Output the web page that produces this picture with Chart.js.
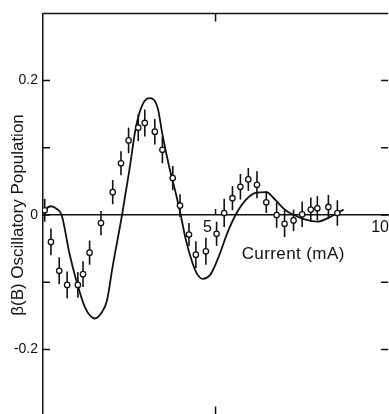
<!DOCTYPE html>
<html>
<head>
<meta charset="utf-8">
<script src="https://cdn.jsdelivr.net/npm/chart.js@4/dist/chart.umd.min.js"></script>
<style>
  html, body { margin: 0; padding: 0; background: #fff; overflow: hidden; }
  #wrap { width: 400px; height: 430px; }
</style>
</head>
<body>
<div id="wrap"><canvas id="oscChart" width="400" height="430"></canvas></div>
<script>
// Measured points (current in mA, beta(B)) with their error bars
const pointCurrent = [0.05, 0.23, 0.47, 0.70, 1.01, 1.16, 1.35, 1.68, 2.02, 2.26, 2.48, 2.76, 2.95, 3.24, 3.46, 3.76, 3.97,
                      4.23, 4.43, 4.72, 5.03, 5.25, 5.49, 5.72, 5.95, 6.20, 6.47, 6.77, 7.00, 7.26, 7.51, 7.76, 7.95, 8.27, 8.53];
const pointBeta = [0.007, -0.040, -0.083, -0.104, -0.104, -0.088, -0.056, -0.012, 0.034, 0.077, 0.111, 0.130, 0.137, 0.124, 0.097, 0.055, 0.014,
                   -0.029, -0.059, -0.054, -0.028, 0.003, 0.025, 0.042, 0.053, 0.045, 0.019, 0.000, -0.013, -0.008, 0.001, 0.008, 0.010, 0.012, 0.003];
const pointError = [0.017, 0.020, 0.020, 0.020, 0.019, 0.019, 0.018, 0.018, 0.018, 0.018, 0.019, 0.020, 0.020, 0.019, 0.020, 0.018, 0.017,
                    0.017, 0.020, 0.020, 0.018, 0.021, 0.018, 0.019, 0.017, 0.020, 0.016, 0.019, 0.020, 0.016, 0.019, 0.018, 0.018, 0.018, 0.019];

// Theoretical curve
const curveCurrent = [0.0, 0.22, 0.40, 0.54, 0.77, 0.98, 1.22, 1.50, 1.70, 1.85, 2.02, 2.29, 2.50, 2.69, 2.88, 3.08, 3.32, 3.46, 3.66, 3.85,
                      3.99, 4.14, 4.33, 4.47, 4.62, 4.86, 5.10, 5.34, 5.58, 5.87, 6.16, 6.47, 6.74, 7.03, 7.27, 7.61, 7.94, 8.28, 8.52, 8.71];
const curveBeta = [0.006, 0.013, 0.009, 0.0, -0.058, -0.100, -0.138, -0.154, -0.145, -0.128, -0.076, 0.0, 0.066, 0.130, 0.164, 0.174, 0.160, 0.120, 0.071, 0.032,
                   0.0, -0.037, -0.071, -0.088, -0.095, -0.088, -0.061, -0.027, 0.0, 0.022, 0.033, 0.034, 0.022, 0.007, 0.0, -0.007, -0.010, -0.004, 0.003, 0.008];

// Axis ticks
const xTickValues = [5, 10];
const yTickValues = [0.2, 0.1, 0, -0.1, -0.2];
const yLabelValues = [0.2, 0, -0.2];

const fontFamily = "'Liberation Sans', Arial, sans-serif";

// Error bars under the open circles
const errorBarPlugin = {
    id: 'errorBars',
    beforeDatasetsDraw(chart) {
        const ctx = chart.ctx;
        const xs = chart.scales.x, ys = chart.scales.y;
        ctx.save();
        ctx.strokeStyle = '#111';
        ctx.lineWidth = 1.6;
        pointCurrent.forEach((c, i) => {
            const px = xs.getPixelForValue(c);
            ctx.beginPath();
            ctx.moveTo(px, ys.getPixelForValue(pointBeta[i] + pointError[i]));
            ctx.lineTo(px, ys.getPixelForValue(pointBeta[i] - pointError[i]));
            ctx.stroke();
        });
        ctx.restore();
    }
};

// Frame, inward ticks and the axis caption inside the plot
const framePlugin = {
    id: 'frame',
    afterDraw(chart) {
        const ctx = chart.ctx;
        const area = chart.chartArea;
        const xs = chart.scales.x, ys = chart.scales.y;
        ctx.save();
        ctx.strokeStyle = '#111';
        ctx.lineWidth = 1.5;
        // top border
        ctx.beginPath();
        ctx.moveTo(area.left, area.top);
        ctx.lineTo(area.right, area.top);
        ctx.stroke();
        // left and right inward ticks
        yTickValues.forEach(v => {
            const py = ys.getPixelForValue(v);
            ctx.beginPath();
            ctx.moveTo(area.left, py);
            ctx.lineTo(area.left + 7, py);
            ctx.moveTo(area.right, py);
            ctx.lineTo(area.right - 7, py);
            ctx.stroke();
        });
        // x ticks on top, zero line and bottom
        const p5 = xs.getPixelForValue(xTickValues[0]);
        const p0 = ys.getPixelForValue(0);
        ctx.beginPath();
        ctx.moveTo(p5, area.top);
        ctx.lineTo(p5, area.top + 8);
        ctx.moveTo(p5, p0);
        ctx.lineTo(p5, p0 - 6);
        ctx.moveTo(p5, area.bottom);
        ctx.lineTo(p5, area.bottom - 10);
        ctx.stroke();
        // caption
        ctx.fillStyle = '#111';
        ctx.font = '17px ' + fontFamily;
        ctx.letterSpacing = '0.4px';
        ctx.textAlign = 'center';
        ctx.textBaseline = 'middle';
        ctx.fillText('Current (mA)', xs.getPixelForValue(7.25), ys.getPixelForValue(-0.059));
        ctx.restore();
    }
};

const ctx = document.getElementById('oscChart').getContext('2d');
new Chart(ctx, {
    type: 'scatter',
    data: {
        datasets: [
            {
                label: 'Measured',
                data: pointCurrent.map((c, i) => ({ x: c, y: pointBeta[i] })),
                pointStyle: 'circle',
                pointRadius: 2.7,
                backgroundColor: '#fff',
                borderColor: '#111',
                borderWidth: 1.3,
                showLine: false
            },
            {
                label: 'Theory',
                type: 'line',
                data: curveCurrent.map((c, i) => ({ x: c, y: curveBeta[i] })),
                borderColor: '#111',
                borderWidth: 1.8,
                pointRadius: 0,
                fill: false,
                cubicInterpolationMode: 'monotone'
            }
        ]
    },
    options: {
        responsive: false,
        animation: false,
        devicePixelRatio: 1,
        layout: {
            padding: { top: 12, right: 10, bottom: 11, left: 0 }
        },
        plugins: {
            legend: { display: false },
            tooltip: { enabled: false }
        },
        scales: {
            x: {
                type: 'linear',
                position: { y: 0 },
                min: 0,
                max: 10,
                grid: { display: false, drawTicks: false },
                border: { display: true, color: '#111', width: 1.5 },
                ticks: {
                    stepSize: 5,
                    autoSkip: false,
                    padding: 3,
                    labelOffset: -8,
                    color: '#111',
                    font: { size: 16, family: fontFamily },
                    callback: function(value) {
                        return xTickValues.includes(value) ? String(value) : '';
                    }
                }
            },
            y: {
                type: 'linear',
                position: 'left',
                min: -0.3,
                max: 0.3,
                afterFit: function(scale) { scale.width = 43; },
                grid: { display: false, drawTicks: false },
                border: { display: true, color: '#111', width: 1.5 },
                title: {
                    display: true,
                    text: 'β(B) Oscillatory Population',
                    color: '#111',
                    padding: { top: 8, bottom: 0 },
                    font: { size: 17, family: fontFamily }
                },
                ticks: {
                    stepSize: 0.1,
                    padding: 5,
                    color: '#111',
                    font: { size: 14, family: fontFamily },
                    callback: function(value) {
                        const v = Math.round(value * 10) / 10;
                        if (!yLabelValues.includes(v)) return '';
                        return v === 0 ? '0' : v.toFixed(1);
                    }
                }
            }
        }
    },
    plugins: [errorBarPlugin, framePlugin]
});
</script>
</body>
</html>
